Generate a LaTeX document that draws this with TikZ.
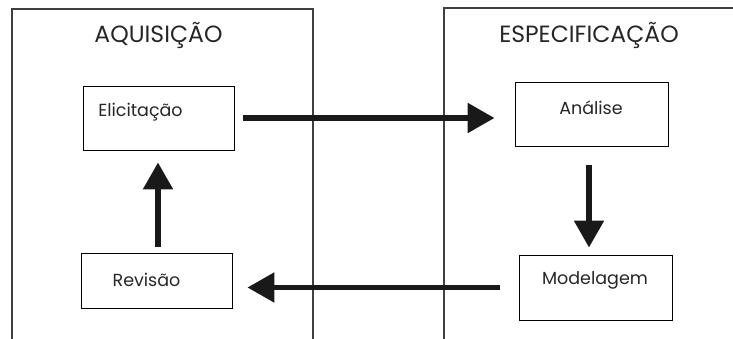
\documentclass[tikz,border=0pt]{standalone}
\usepackage{fontspec}
\setmainfont{Poppins}
\usetikzlibrary{arrows.meta}
\begin{document}
\begin{tikzpicture}[x=1pt,y=-1pt,
  frame/.style={draw=black!75,line width=1.1pt},
  stage/.style={draw=black,line width=0.9pt,rectangle,inner sep=0pt},
  title/.style={anchor=base,font=\fontsize{23.5}{28}\selectfont,text=black!85},
  lbl/.style={anchor=base,font=\fontsize{17.5}{21}\selectfont,text=black!85},
  flow/.style={line width=5.5pt,draw=black!90,
    -{Triangle[length=27pt,width=29pt]}}]
\useasboundingbox (0,0) rectangle (733,339);
% phase frames, open at the bottom
\draw[frame] (12,345) -- (12,9) -- (313,9) -- (313,345);
\draw[frame] (444,345) -- (444,8) -- (740,8);
\node[title] (tacq) at (158.5,43) {AQUISIÇÃO};
\node[title] (tspec) at (589,43) {ESPECIFICAÇÃO};
% activity boxes
\node[stage,minimum width=151pt,minimum height=64pt] (elic) at (158.5,118) {};
\node[stage,minimum width=151pt,minimum height=55pt] (rev) at (156.5,280.5) {};
\node[stage,minimum width=153pt,minimum height=64pt] (anal) at (591.5,114) {};
\node[stage,minimum width=153pt,minimum height=65pt] (model) at (595.5,287.5) {};
\node[lbl] at (140.5,116.5) {Elicitação};
\node[lbl] at (146.5,286) {Revisão};
\node[lbl] at (591,115) {Análise};
\node[lbl] at (595,284) {Modelagem};
% flow between activities
\draw[flow,shorten <=9pt,shorten >=20pt] (elic.east) -- (elic.east -| anal.west);
\draw[flow,shorten <=19pt,shorten >=7pt] ([xshift=-2.5pt]anal.south) -- ([xshift=-2.5pt]anal.south |- model.north);
\draw[flow,shorten <=19pt,shorten >=15pt] (model.west) -- (model.west -| rev.east);
\draw[flow,shorten <=6pt,shorten >=12pt] ([xshift=1.5pt]rev.north) -- ([xshift=1.5pt]rev.north |- elic.south);
\end{tikzpicture}
\end{document}
